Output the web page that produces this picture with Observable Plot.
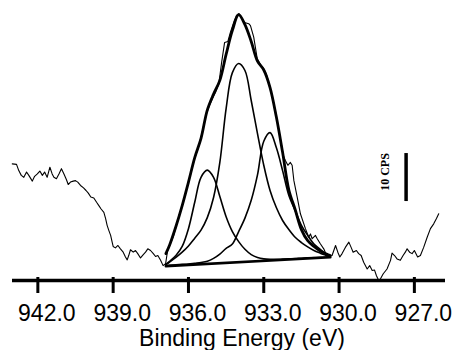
<!DOCTYPE html>
<html><head><meta charset="utf-8">
<script src="https://cdn.jsdelivr.net/npm/d3@7"></script>
<script src="https://cdn.jsdelivr.net/npm/@observablehq/plot@0.6"></script>
<style>
html,body{margin:0;padding:0;background:#fff;}
#chart{width:459px;height:350px;}
</style></head><body><div id="chart"></div>
<script>
// Raw spectrum (binding energy, eV ; counts, CPS above an arbitrary zero)
const rawEnergy = [943.02,942.85,942.76,942.66,942.56,942.45,942.36,942.22,942.13,942.02,941.92,941.82,941.73,941.63,941.52,941.43,941.36,941.26,941.16,941.06,940.96,940.86,940.79,940.70,940.59,940.50,940.41,940.30,940.18,940.08,939.99,939.89,939.77,939.66,939.57,939.48,939.37,939.30,939.24,939.17,939.10,939.04,939.00,938.91,938.81,938.71,938.60,938.51,938.44,938.38,938.31,938.20,938.11,938.02,937.91,937.80,937.71,937.62,937.51,937.40,937.31,937.22,937.11,937.01,936.91,
936.83,936.72,936.60,936.48,936.36,936.24,936.12,936.00,935.88,935.76,935.64,935.52,935.40,935.28,935.16,935.04,934.92,934.79,934.68,934.56,934.43,934.33,934.17,934.09,933.99,933.89,933.77,933.60,933.53,933.40,933.26,933.13,933.01,932.89,932.77,932.65,932.53,932.41,932.29,932.22,932.14,932.04,931.94,931.87,931.80,931.67,931.54,931.34,931.21,931.14,931.07,930.94,930.87,930.74,930.61,930.47,930.28,930.14,930.05,929.97,929.88,929.75,929.61,929.52,929.44,929.31,929.22,929.12,929.02,928.88,928.78,928.68,928.59,928.51,928.42,928.35,928.24,928.09,927.95,927.89,927.79,927.69,927.56,927.45,927.36,927.29,927.19,927.09,927.00,926.87,926.76,926.63,926.49,926.36,926.23,926.12,926.03];
const rawCounts = [24.3,24.2,22.9,21.9,21.5,22.6,21.9,20.7,21.7,22.2,22.8,21.9,22.6,21.5,23.6,22.2,21.5,21.2,22.2,23.3,22.2,21.0,20.0,20.5,20.7,20.8,20.5,19.8,19.3,18.75,18.2,17.4,17.2,16.3,15.6,14.9,14.2,12.9,11.5,10.4,9.4,8.0,7.1,6.8,7.3,6.6,5.9,4.9,4.3,5.2,6.4,5.9,6.25,5.6,4.7,5.4,5.9,6.6,6.25,5.6,5.0,5.2,4.2,3.1,3.5,
6.25,7.7,9.2,11.5,13.75,15.6,18.1,20.4,22.9,25.4,27.1,29.4,32.1,34.8,36.5,37.9,39.2,41.0,45.4,49.6,49.8,51.7,54.2,55.2,55.6,54.8,53.75,53.5,53.1,50.7,46.2,45.0,44.2,42.9,40.6,38.1,35.0,31.7,28.1,26.0,25.0,24.0,24.6,24.0,20.8,17.4,13.9,10.8,9.0,9.7,8.7,9.4,8.7,7.6,6.6,4.9,5.2,7.3,5.9,4.9,5.6,6.9,8.0,6.9,5.9,6.25,5.6,5.2,3.8,2.4,3.1,2.1,2.2,1.0,0.0,0.35,1.4,2.4,4.2,5.7,5.2,4.5,4.2,5.2,5.9,6.6,5.9,5.6,6.25,4.9,5.2,6.9,9.0,10.8,11.8,12.9,13.9];

// Curve-fit components (read at these energies), including the linear background
const fitEnergy = [936.9,936.75,936.5,936.25,936.0,935.75,935.5,935.25,935.0,934.75,934.5,934.25,934.0,933.75,933.5,933.25,933.0,932.75,932.5,932.25,932.0,931.75,931.5,931.25,931.0,930.75,930.5,930.35];
const peak935 = [3.4,4.0,5.2,7.1,10.8,16.3,21.5,23.0,21.5,17.5,13.3,10.2,8.1,6.5,5.4,4.8,4.5,4.4,4.4,4.45,4.5,4.55,4.65,4.72,4.78,4.84,4.88,4.9];
const peak934 = [3.3,3.85,4.8,5.9,7.2,8.8,10.5,13.1,17.3,24.6,35.8,43.3,45.2,43.75,37.5,30.6,24.0,18.75,15.2,12.5,10.6,9.0,7.9,7.0,6.25,5.7,5.2,4.9];
const peak933 = [3.1,3.15,3.25,3.35,3.45,3.6,3.75,4.0,4.6,5.5,6.7,7.6,10.2,13.0,16.7,22.0,29.0,30.8,27.7,22.9,17.7,14.6,11.5,9.4,7.6,6.5,5.4,4.9];
const envelope = [5.6,7.4,11.25,15.6,20.5,25.6,29.6,35.5,38.85,41.7,47.1,52.1,55.4,53.3,49.8,45.7,43.85,40.2,34.1,26.7,18.85,14.8,10.6,8.3,7.1,6.15,5.5,5.2];
const baselineEnergy = [936.9, 930.35];
const baselineCounts = [3.0, 4.85];

// Axis
const tickValues = [942, 939, 936, 933, 930, 927];
const tickLabels = ["942.0", "939.0", "936.0", "933.0", "930.0", "927.0"];
const xLabel = "Binding Energy (eV)";

// Scale bar
const scaleBarEnergy = 927.33;
const scaleBarFrom = 16.45;
const scaleBarSize = 10;
const scaleBarLabel = "10 CPS";

const raw = rawEnergy.map((e, i) => ({e, c: rawCounts[i]}));
const fit = arr => fitEnergy.map((e, i) => ({e, c: arr[i]}));
const baseline = baselineEnergy.map((e, i) => ({e, c: baselineCounts[i]}));

const chart = Plot.plot({
  width: 459, height: 350,
  marginLeft: 12, marginRight: 14, marginTop: 0, marginBottom: 73,
  x: {domain: [943.01, 925.76], axis: null, label: null},
  y: {domain: [0.625, 58.333], axis: null, label: null},
  style: {background: "white", overflow: "visible", fontFamily: "Liberation Sans, Arial, sans-serif", color: "#000"},
  marks: [
    Plot.line(raw, {x: "e", y: "c", stroke: "#000", strokeWidth: 1.1}),
    Plot.line(fit(peak935), {x: "e", y: "c", curve: "catmull-rom", stroke: "#000", strokeWidth: 1.6}),
    Plot.line(fit(peak934), {x: "e", y: "c", curve: "catmull-rom", stroke: "#000", strokeWidth: 1.6}),
    Plot.line(fit(peak933), {x: "e", y: "c", curve: "catmull-rom", stroke: "#000", strokeWidth: 1.6}),
    Plot.line(baseline, {x: "e", y: "c", stroke: "#000", strokeWidth: 2.6}),
    Plot.line(fit(envelope), {x: "e", y: "c", curve: "catmull-rom", stroke: "#000", strokeWidth: 2.8}),
    Plot.ruleY([0], {stroke: "#000", strokeWidth: 3.5}),
    Plot.axisX({ticks: tickValues, tickSize: 16, tickFormat: () => "", strokeWidth: 3, stroke: "#000", label: null}),
    Plot.axisX({ticks: tickValues, tickSize: 0, tickPadding: 27, tickFormat: d => tickLabels[tickValues.indexOf(d)], fontSize: 23, fill: "#000", dx: 9, label: null}),
    Plot.ruleX([scaleBarEnergy], {y1: scaleBarFrom, y2: scaleBarFrom + scaleBarSize, stroke: "#000", strokeWidth: 3.5}),
    Plot.text([scaleBarLabel], {x: scaleBarEnergy, y: scaleBarFrom + scaleBarSize / 2, rotate: -90, dx: -21, dy: -5.5, fontFamily: "Liberation Serif, Times New Roman, serif", fontSize: 12, fontWeight: "bold", fill: "#000"}),
    Plot.text([xLabel], {frameAnchor: "bottom", dx: 13, dy: 52, lineAnchor: "top", fontSize: 23, fill: "#000"})
  ]
});
document.getElementById("chart").appendChild(chart);
</script>
</body></html>
